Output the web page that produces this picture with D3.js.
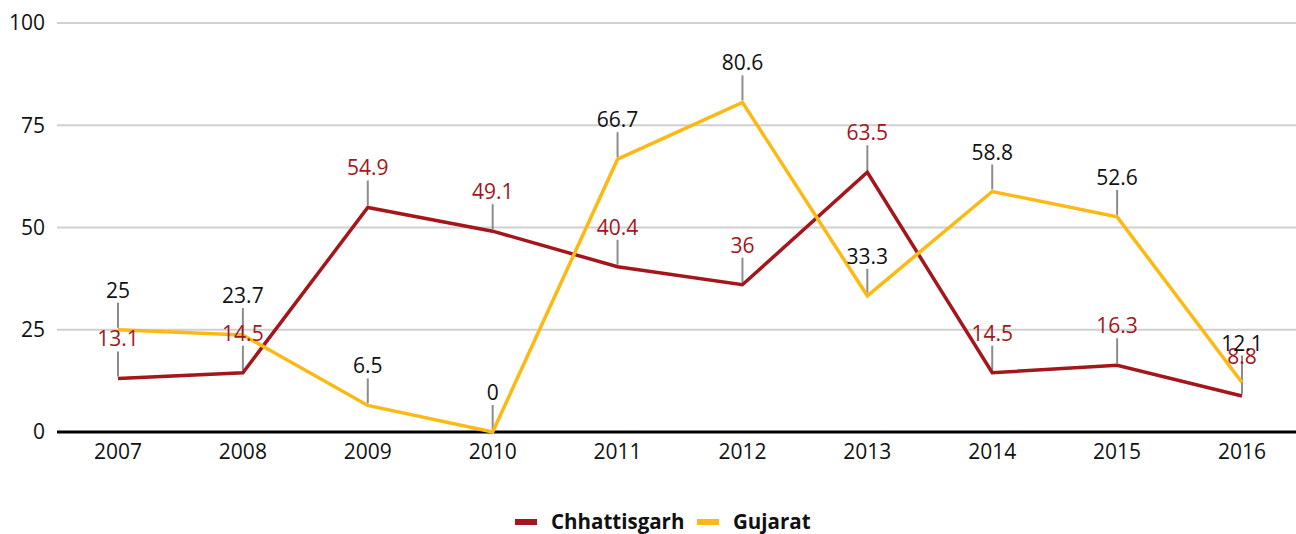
<!DOCTYPE html>
<html><head><meta charset="utf-8">
<script src="https://cdn.jsdelivr.net/npm/d3@7"></script>
<style>body{margin:0;background:#fff;} svg{display:block;font-family:"Open Sans",sans-serif;}</style>
</head><body><svg id="c" width="1296" height="534"></svg>
<script>
const years = [2007,2008,2009,2010,2011,2012,2013,2014,2015,2016];
const chhattisgarh = [13.1,14.5,54.9,49.1,40.4,36,63.5,14.5,16.3,8.8];
const gujarat = [25,23.7,6.5,0,66.7,80.6,33.3,58.8,52.6,12.1];
const yTicks = [0,25,50,75,100];
const seriesNames = ["Chhattisgarh","Gujarat"];
const colors = ["#a3161c","#fdb913"];
const labelColors = ["#a3161c","#111"];

const svg = d3.select("#c");
const x = d3.scalePoint().domain(years).range([118,1242]);
const y = d3.scaleLinear().domain([0,100]).range([432,23]);

// gridlines
svg.append("g").selectAll("line").data(yTicks.filter(d=>d>0)).join("line")
  .attr("x1",57).attr("x2",1296).attr("y1",d=>y(d)).attr("y2",d=>y(d))
  .attr("stroke","#d0d0d0").attr("stroke-width",2);
// y labels
svg.append("g").selectAll("text").data(yTicks).join("text")
  .attr("x",45).attr("y",d=>y(d)).attr("dy","0.35em").attr("text-anchor","end")
  .attr("font-size",21).attr("fill","#111").text(d=>d);
// x axis
svg.append("line").attr("x1",57).attr("x2",1296).attr("y1",y(0)).attr("y2",y(0))
  .attr("stroke","#000").attr("stroke-width",3);
svg.append("g").selectAll("text").data(years).join("text")
  .attr("x",d=>x(d)).attr("y",459).attr("text-anchor","middle")
  .attr("font-size",21).attr("fill","#111").text(d=>d);

const data = [chhattisgarh, gujarat];
const line = d3.line().x((d,i)=>x(years[i])).y(d=>y(d));
// ticks
data.forEach((vals,si)=>{
  svg.append("g").selectAll("line").data(vals).join("line")
    .attr("x1",(d,i)=>x(years[i])).attr("x2",(d,i)=>x(years[i]))
    .attr("y1",d=>y(d)-2).attr("y2",d=>y(d)-27)
    .attr("stroke","#8c8c8c").attr("stroke-width",2);
});
data.forEach((vals,si)=>{
  svg.append("path").datum(vals).attr("d",line).attr("fill","none")
    .attr("stroke",colors[si]).attr("stroke-width",3.5).attr("stroke-linejoin","miter");
});
data.forEach((vals,si)=>{
  svg.append("g").selectAll("text").data(vals).join("text")
    .attr("x",(d,i)=>x(years[i])).attr("y",d=>y(d)-32).attr("text-anchor","middle")
    .attr("font-size",21).attr("fill",labelColors[si]).text(d=>d);
});
// legend
const lg = svg.append("g");
const lx = [515,697];
seriesNames.forEach((n,i)=>{
  lg.append("rect").attr("x",lx[i]).attr("y",519).attr("width",22).attr("height",6).attr("fill",colors[i]);
  lg.append("text").attr("x",lx[i]+36).attr("y",529).attr("font-size",20.5).attr("font-weight","bold")
    .attr("fill","#111").text(n);
});
</script></body></html>
